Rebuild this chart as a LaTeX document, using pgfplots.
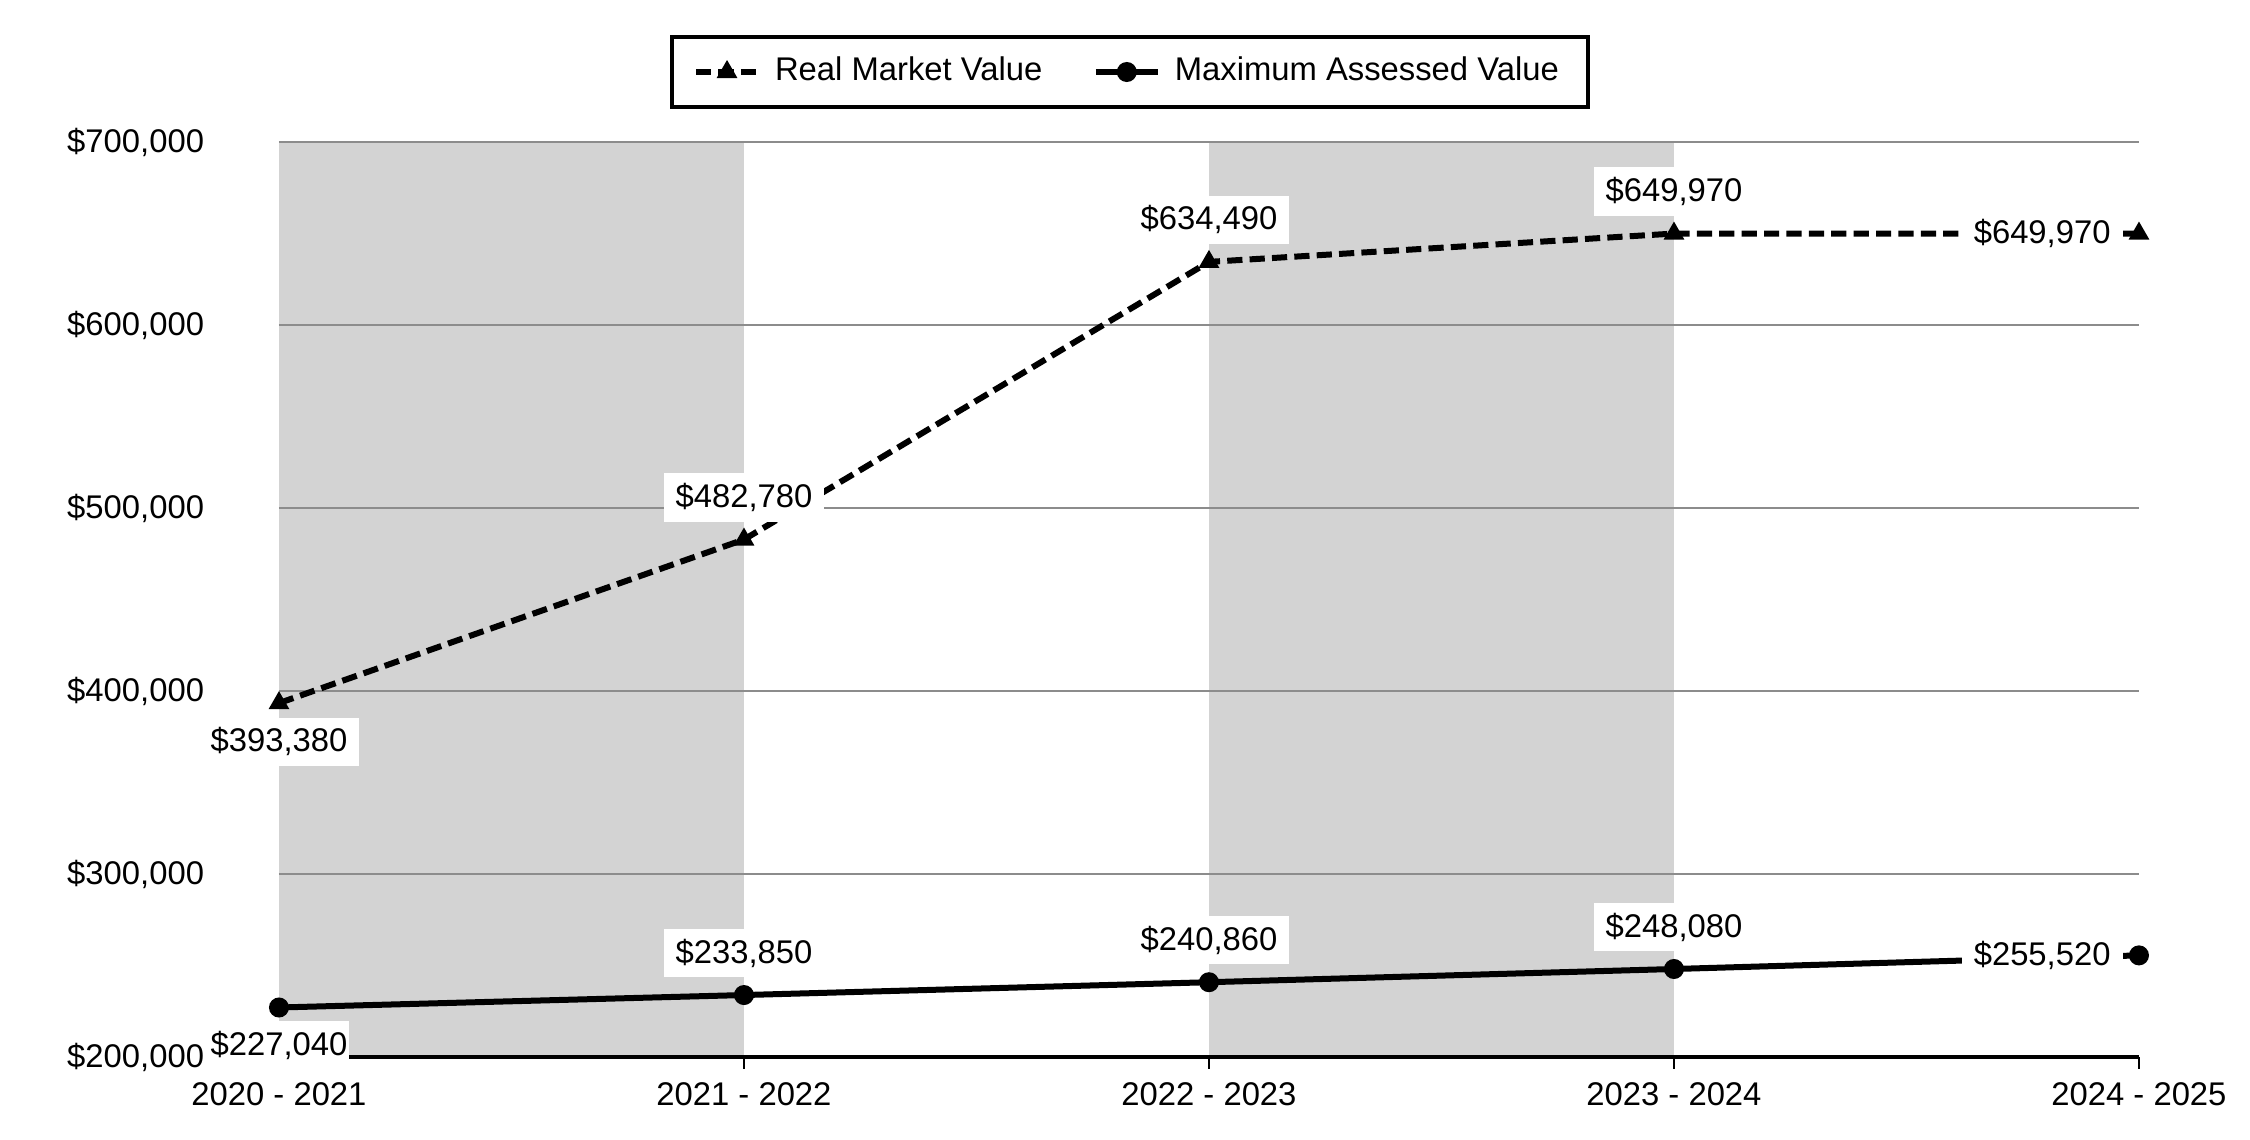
\documentclass[border=0pt]{standalone}
\usepackage{fontspec}
\setmainfont{Liberation Sans}
\usepackage{pgfplots}
\usepackage{pgfplotstable}
\pgfplotsset{compat=1.18}

\definecolor{band}{HTML}{D3D3D3}
\definecolor{gridc}{HTML}{8C8C8C}

% real market value
\pgfplotstableread{
x y lab
0 393380 {\$393,380}
1 482780 {\$482,780}
2 634490 {\$634,490}
3 649970 {\$649,970}
4 649970 {\$649,970}
}\rmv

% maximum assessed value
\pgfplotstableread{
x y lab
0 227040 {\$227,040}
1 233850 {\$233,850}
2 240860 {\$240,860}
3 248080 {\$248,080}
4 255520 {\$255,520}
}\mav

% axis line and tick labels above the data labels
\pgfplotsset{
  layers/toplabels/.define layer set={
    axis background,axis grid,axis ticks,main,axis lines,
    axis tick labels,axis descriptions,axis foreground}{},
}

% labels only: domain, x shift, y shift
\pgfplotsset{
  lbl/.style n args={3}{
    draw=none, mark=none, forget plot,
    restrict x to domain=#1,
    nodes near coords,
    point meta=explicit symbolic,
    every node near coord/.append style={anchor=center, fill=white, text=black,
      inner xsep=3pt, inner ysep=2.5pt, xshift=#2, yshift=#3},
  },
}

\begin{document}
\begin{tikzpicture}[font=\fontsize{8.2}{9.8}\selectfont]
  \begin{axis}[
    set layers=toplabels,
    scale only axis,
    width=465pt, height=228.75pt,
    xmin=0, xmax=4,
    ymin=200000, ymax=700000,
    enlargelimits=false,
    axis x line*=bottom,
    axis y line*=left,
    x axis line style={line width=1pt},
    y axis line style={draw=none},
    xtick={0,1,2,3,4},
    xticklabels={2020 - 2021, 2021 - 2022, 2022 - 2023, 2023 - 2024, 2024 - 2025},
    ytick={200000,300000,400000,500000,600000,700000},
    yticklabels={{\$200,000}, {\$300,000}, {\$400,000}, {\$500,000}, {\$600,000}, {\$700,000}},
    scaled y ticks=false,
    tick align=outside,
    major tick length=3pt,
    xtick style={black, line width=0.4pt},
    ytick style={draw=none},
    yticklabel style={xshift=-12.2pt},
    xticklabel style={yshift=0.2pt},
    ymajorgrids,
    grid style={gridc, line width=0.5pt},
    legend columns=2,
    legend style={at={(axis description cs:0.4575,1.0765)}, anchor=center,
      draw=black, line width=1pt, inner xsep=5.3pt, inner ysep=3.1pt,
      /tikz/every odd column/.append style={column sep=1.5pt},
      /tikz/every even column/.append style={column sep=10.6pt}},
    legend cell align=left,
    legend image code/.code={
      \draw[mark repeat=2,mark phase=2] plot coordinates {(0pt,0pt) (7.75pt,0pt) (15.5pt,0pt)};},
  ]
    % shaded columns
    \addplot[on layer=axis background, fill=band, draw=none, forget plot]
      coordinates {(0,200000) (0,700000) (1,700000) (1,200000)} -- cycle;
    \addplot[on layer=axis background, fill=band, draw=none, forget plot]
      coordinates {(2,200000) (2,700000) (3,700000) (3,200000)} -- cycle;

    \addplot[black, line width=1.5pt, dash pattern=on 3.8pt off 1.8pt,
      mark=triangle*, mark size=2.6pt, mark options={solid, line width=0.4pt}]
      table[x=x, y=y] {\rmv};
    \addlegendentry{Real Market Value}

    \addplot[black, line width=1.5pt, mark=*, mark size=2.3pt,
      mark options={line width=0.4pt}]
      table[x=x, y=y] {\mav};
    \addlegendentry{Maximum Assessed Value\hspace{6.8pt}}

    % data labels
    \addplot[lbl={-0.5:0.5}{0pt}{-9.7pt}] table[x=x, y=y, meta=lab] {\rmv};
    \addplot[lbl={0.5:3.5}{0pt}{10.5pt}] table[x=x, y=y, meta=lab] {\rmv};
    \addplot[lbl={3.5:4.5}{-24.2pt}{0pt}] table[x=x, y=y, meta=lab] {\rmv};
    \addplot[lbl={-0.5:0.5}{0pt}{-9.4pt},
      every node near coord/.append style={inner xsep=0.3pt}] table[x=x, y=y, meta=lab] {\mav};
    \addplot[lbl={0.5:3.5}{0pt}{10.5pt}] table[x=x, y=y, meta=lab] {\mav};
    \addplot[lbl={3.5:4.5}{-24.2pt}{0pt}] table[x=x, y=y, meta=lab] {\mav};

    \coordinate (bl) at (rel axis cs:-0.15,-0.0907);
    \coordinate (tr) at (rel axis cs:1.0597,1.1552);
  \end{axis}
  \path (bl) rectangle (tr);
\end{tikzpicture}
\end{document}
